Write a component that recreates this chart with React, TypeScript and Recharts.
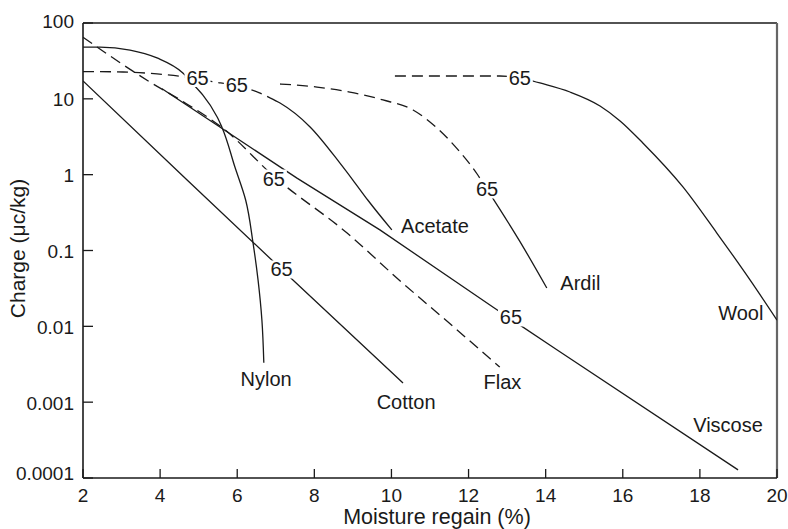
import React from 'react';
import { LineChart, Line, XAxis, YAxis, ReferenceLine, ReferenceDot } from 'recharts';

// ---- axes ----
const xTicks = [2, 4, 6, 8, 10, 12, 14, 16, 18, 20];
const yTicks = [0.0001, 0.001, 0.01, 0.1, 1, 10, 100];
const yTickLabels = ['0.0001', '0.001', '0.01', '0.1', '1', '10', '100'];
const xTitle = 'Moisture regain (%)';
const yTitle = 'Charge (μc/kg)';

// ---- series: [moisture regain %, charge μc/kg] ----
const nylonUpper: [number, number][] = [
  [2, 48], [2.44, 48], [3.22, 44], [3.92, 34.6], [4.59, 21.9], [4.85, 15.7],
];
const nylonLower: [number, number][] = [
  [4.85, 15.7], [5.11, 11.2], [5.48, 5.76], [5.6, 4.26], [5.94, 1.26], [6.22, 0.46], [6.41, 0.126],
  [6.54, 0.041], [6.64, 0.0121], [6.69, 0.0033],
];
const acetateLow: [number, number][] = [
  [2, 22.9], [3.04, 22.6], [3.92, 21.3], [4.59, 19.6], [5.37, 16.8], [5.99, 14.8], [6.56, 12.1], [6.85, 10.3],
];
const acetateHigh: [number, number][] = [
  [6.85, 10.3], [7.11, 8.8], [7.89, 4.26], [8.66, 1.43], [9.0, 0.85], [9.39, 0.46], [10.01, 0.187],
];
const flax: [number, number][] = [
  [2, 65], [3.75, 16.5], [4.52, 9.7], [5.68, 3.9], [6.95, 0.95], [8.85, 0.17], [10.22, 0.04], [11.52, 0.0108], [12.81, 0.0029],
];
const cotton: [number, number][] = [
  [2, 17.2], [4.7, 0.85], [7.5, 0.0385], [10.3, 0.00179],
];
const viscose: [number, number][] = [
  [4.05, 13.6], [5.55, 4.26], [7.55, 0.9], [9.7, 0.187], [12.63, 0.018], [14.29, 0.0049], [18.99, 0.000128],
];
const ardilLow: [number, number][] = [
  [7.11, 15.7], [8.07, 14.3], [8.92, 12.3], [9.78, 9.66], [10.56, 7.13], [11.18, 4.13], [11.73, 2.12], [12.24, 0.99], [12.48, 0.64],
];
const ardilHigh: [number, number][] = [
  [12.48, 0.64], [13.33, 0.132], [14.03, 0.032],
];
const woolLow: [number, number][] = [
  [10.09, 20], [12.81, 20], [13.33, 19.1],
];
const woolHigh: [number, number][] = [
  [13.33, 19.1], [13.85, 16.2], [14.63, 12.3], [15.41, 8.05], [15.93, 5.11], [16.52, 2.62], [17.56, 0.69],
  [18.44, 0.17], [19.3, 0.041], [20, 0.0121],
];

// 65% RH markers [x, y]
const rh65: [number, number][] = [
  [4.97, 18.8], [5.99, 15.2], [6.95, 0.89], [7.15, 0.0562], [13.1, 0.0131], [12.48, 0.638], [13.33, 19.1],
];
// fibre names [name, x (centre), y (baseline)]
const fibreNames: [string, number, number][] = [
  ['Nylon', 6.75, 0.00164], ['Cotton', 10.38, 0.000815], ['Flax', 12.88, 0.0015], ['Viscose', 18.73, 0.000405],
  ['Acetate', 11.13, 0.17], ['Ardil', 14.9, 0.0302], ['Wool', 19.06, 0.0121],
];

const pts = (a: [number, number][]) => a.map(([x, y]) => ({ x, y }));

const FONT = '"Liberation Sans", Arial, Helvetica, sans-serif';
const INK = '#1a1a1a';
const LW = 1.3;
const DASH = '11 6';

const XTick = (props: any) => {
  const { x, y, payload } = props;
  return (
    <text x={x} y={y} textAnchor="middle" dominantBaseline="central" fontSize={19} fontFamily={FONT} fill={INK}>
      {payload.value}
    </text>
  );
};

const YTick = (props: any) => {
  const { x, y, payload } = props;
  const i = yTicks.indexOf(payload.value);
  const dy = i === 0 ? -5 : i === yTicks.length - 1 ? -2 : 1;
  return (
    <text x={x} y={y + dy} textAnchor="end" dominantBaseline="central" fontSize={19} fontFamily={FONT} fill={INK}>
      {i >= 0 ? yTickLabels[i] : String(payload.value)}
    </text>
  );
};

const SixtyFive = (props: any) => {
  const { cx, cy } = props;
  return (
    <g>
      <rect x={cx - 13} y={cy - 9} width={26} height={18} fill="#ffffff" />
      <text x={cx} y={cy} textAnchor="middle" dominantBaseline="central" fontSize={20} fontFamily={FONT} fill={INK}>
        65
      </text>
    </g>
  );
};

const nameShape = (name: string) => (props: any) => {
  const { cx, cy } = props;
  return (
    <text x={cx} y={cy} textAnchor="middle" fontSize={20} fontFamily={FONT} fill={INK}>
      {name}
    </text>
  );
};

const YTitle = (props: any) => {
  const vb = props.viewBox || { x: 0, y: 23, width: 83, height: 455 };
  const cx = vb.x + 17;
  const cy = vb.y + vb.height / 2 - 2;
  return (
    <text x={cx} y={cy} transform={`rotate(-90 ${cx} ${cy})`} textAnchor="middle" dominantBaseline="central" fontSize={21} fontFamily={FONT} fill={INK}>
      {yTitle}
    </text>
  );
};

const XTitle = (props: any) => {
  const vb = props.viewBox || { x: 83, y: 478, width: 694, height: 51 };
  const cx = vb.x + vb.width / 2 + 7;
  const cy = vb.y + 39;
  return (
    <text x={cx} y={cy} textAnchor="middle" dominantBaseline="central" fontSize={21.5} fontFamily={FONT} fill={INK}>
      {xTitle}
    </text>
  );
};

export default function App() {
  const line = (key: string, data: [number, number][], dashed: boolean, type: any = 'monotone') => (
    <Line
      key={key}
      data={pts(data)}
      dataKey="y"
      type={type}
      stroke={INK}
      strokeWidth={LW}
      strokeDasharray={dashed ? DASH : undefined}
      dot={false}
      activeDot={false}
      isAnimationActive={false}
    />
  );
  return (
    <div style={{ position: 'absolute', left: 0, top: 0, width: 788, height: 529, background: '#fff' }}>
      <LineChart width={788} height={529} margin={{ top: 23, right: 11, left: 0, bottom: 0 }}>
        <XAxis
          type="number"
          dataKey="x"
          domain={[2, 20]}
          ticks={xTicks}
          allowDataOverflow
          height={51}
          tickSize={-9}
          tickMargin={26}
          tickLine={{ stroke: INK, strokeWidth: 1.3 }}
          tick={<XTick />}
          axisLine={{ stroke: INK, strokeWidth: 1.6 }}
          label={{ content: <XTitle /> }}
        />
        <YAxis
          type="number"
          scale="log"
          domain={[0.0001, 100]}
          ticks={yTicks}
          allowDataOverflow
          width={83}
          tickSize={-10}
          tickMargin={19}
          tickLine={{ stroke: INK, strokeWidth: 1.3 }}
          tick={<YTick />}
          axisLine={{ stroke: INK, strokeWidth: 1.6 }}
          label={{ content: <YTitle /> }}
        />
        <ReferenceLine y={100} stroke={INK} strokeWidth={1.6} />
        <ReferenceLine x={20} stroke="#666666" strokeWidth={2.2} />
        {line('nylonUpper', nylonUpper, false, 'monotoneX')}
        {line('nylonLower', nylonLower, false, 'monotoneY')}
        {line('acetateLow', acetateLow, true)}
        {line('acetateHigh', acetateHigh, false)}
        {line('flax', flax, true)}
        {line('cotton', cotton, false, 'linear')}
        {line('viscose', viscose, false, 'linear')}
        {line('ardilLow', ardilLow, true)}
        {line('ardilHigh', ardilHigh, false)}
        {line('woolLow', woolLow, true)}
        {line('woolHigh', woolHigh, false)}
        {rh65.map(([x, y], i) => (
          <ReferenceDot key={'rh' + i} x={x} y={y} r={1} ifOverflow="visible" shape={<SixtyFive />} />
        ))}
        {fibreNames.map(([n, x, y]) => (
          <ReferenceDot key={n} x={x} y={y} r={1} ifOverflow="visible" shape={nameShape(n)} />
        ))}
      </LineChart>
    </div>
  );
}
